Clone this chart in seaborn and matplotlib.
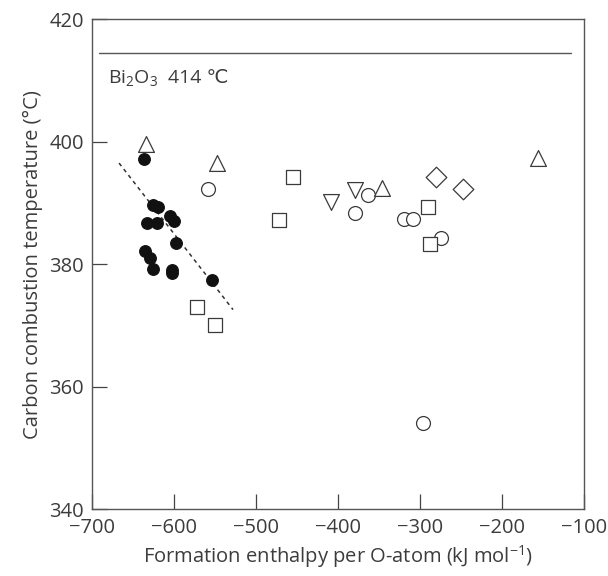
import matplotlib
matplotlib.use("Agg")
import matplotlib.pyplot as plt
import seaborn as sns
import pandas as pd

# filled circles (with trend line)
filled_x = [-636, -625, -620, -633, -621, -605, -600, -598, -635, -629, -626, -603, -603, -554]
filled_y = [397.2, 389.7, 389.4, 386.8, 386.7, 387.9, 387.1, 383.4, 382.2, 381.0, 379.2, 379.0, 378.6, 377.5]

circle_x = [-559, -379, -363, -320, -309, -274, -296]
circle_y = [392.2, 388.3, 391.3, 387.3, 387.3, 384.2, 354.1]

tri_up_x = [-634, -547, -346, -156.5]
tri_up_y = [399.6, 396.5, 392.4, 397.4]

tri_down_x = [-408, -379]
tri_down_y = [390.1, 392.1]

square_x = [-572, -550, -454.5, -472, -290, -288]
square_y = [373.1, 370.1, 394.3, 387.2, 389.3, 383.3]

diamond_x = [-280.5, -247.6]
diamond_y = [394.3, 392.2]

trend_x = [-667, -528]
trend_y = [396.5, 372.6]

bi2o3_x = [-691, -116]
bi2o3_y = [414.5, 414.5]

xticks = [-700, -600, -500, -400, -300, -200, -100]
yticks = [340, 360, 380, 400, 420]

sns.set_style("ticks")
plt.rcParams["font.family"] = ["Open Sans", "DejaVu Sans"]
plt.rcParams["mathtext.fontset"] = "custom"
plt.rcParams["mathtext.rm"] = "Open Sans"
plt.rcParams["mathtext.it"] = "Open Sans"
plt.rcParams["axes.unicode_minus"] = True

txt = "#3c3c3c"
edge = "#3a3a3a"

fig = plt.figure(figsize=(6.08, 5.76), dpi=100)
ax = fig.add_axes([0.1513, 0.1155, 0.8092, 0.8515])

groups = [
    (filled_x, filled_y, "o", 70, "#111111"),
    (circle_x, circle_y, "o", 100, "white"),
    (tri_up_x, tri_up_y, "^", 130, "white"),
    (tri_down_x, tri_down_y, "v", 130, "white"),
    (square_x, square_y, "s", 100, "white"),
    (diamond_x, diamond_y, "D", 110, "white"),
]
for gx, gy, mk, sz, fc in groups:
    df = pd.DataFrame({"x": gx, "y": gy})
    sns.scatterplot(data=df, x="x", y="y", marker=mk, s=sz, color=fc,
                    edgecolor=edge if fc == "white" else "#111111",
                    linewidth=0.9, ax=ax, zorder=3)

sns.lineplot(x=trend_x, y=trend_y, ax=ax, color="#333333", lw=1.1,
             linestyle=(0, (2.5, 2.5)), zorder=2)
sns.lineplot(x=bi2o3_x, y=bi2o3_y, ax=ax, color="#555555", lw=1.0, zorder=2)
ax.text(-681, 409.6, "Bi$_2$O$_3$", fontsize=14, color=txt,
        ha="left", va="baseline")
ax.text(-607, 409.6, "414 \u2103", fontsize=14, color=txt,
        ha="left", va="baseline")

ax.set_xlim(-700, -100)
ax.set_ylim(340, 420)
ax.set_xticks(xticks)
ax.set_yticks(yticks)
ax.set_xticklabels([f"\u2212{abs(v)}" for v in xticks])
ax.set_yticklabels([str(v) for v in yticks])
ax.tick_params(direction="in", length=11, width=0.9, color="#444444",
               labelsize=14.5, labelcolor=txt, pad=6)
for sp in ax.spines.values():
    sp.set_color("#555555")
    sp.set_linewidth(1.0)

ax.set_xlabel("Formation enthalpy per O-atom (kJ mol$^{-1}$)", fontsize=14.5,
              color=txt, labelpad=4)
ax.set_ylabel("Carbon combustion temperature (°C)", fontsize=14.5,
              color=txt, labelpad=4)

fig.savefig("out.png", dpi=100)
